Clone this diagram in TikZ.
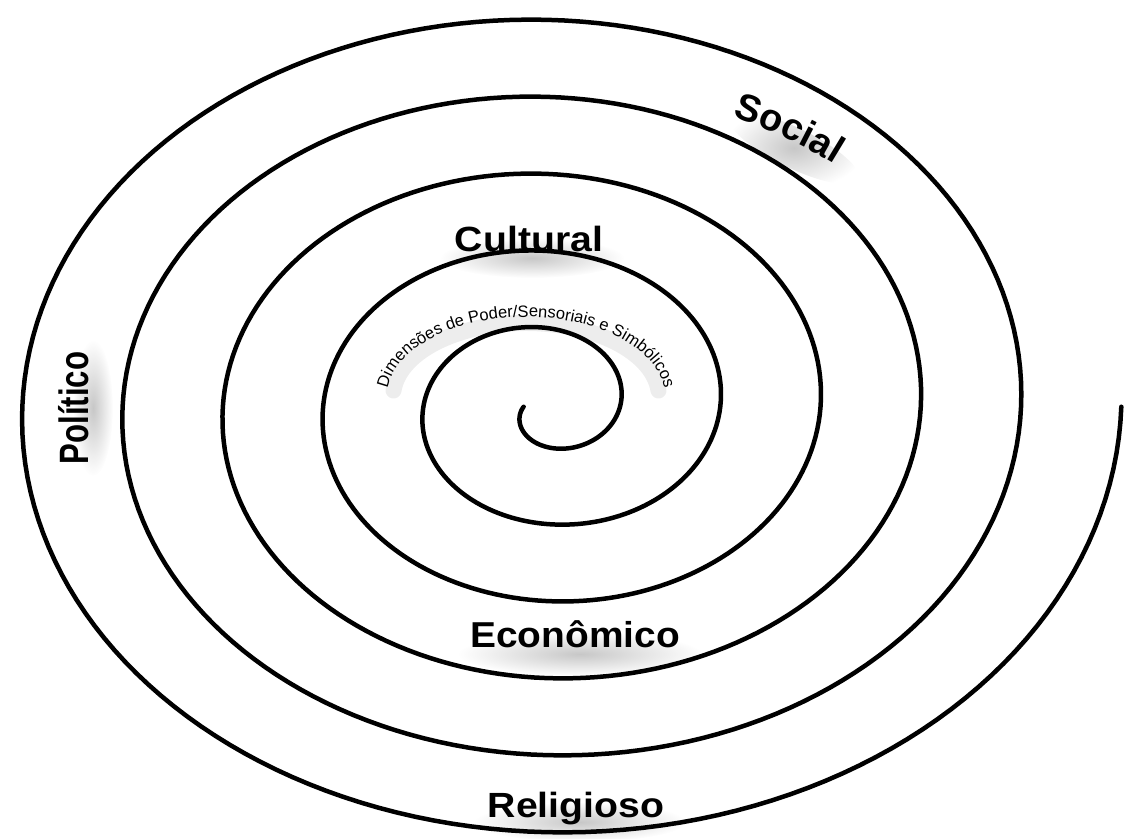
\documentclass[tikz,border=0pt]{standalone}
\usepackage{fontspec}
\setmainfont{Liberation Sans}
\usetikzlibrary{decorations.text,fadings}
\tikzfading[name=softglow, inner color=transparent!0, outer color=transparent!100]
\tikzset{
  spiral/.style={line width=4.5pt, line cap=round, line join=round},
  lbl/.style={font=\fontsize{35}{40}\selectfont\bfseries, inner sep=0pt, anchor=base},
  glow/.style={fill=black, opacity=0.22, path fading=softglow},
}
\begin{document}
\begin{tikzpicture}[x=1pt,y=1pt]
\useasboundingbox (0,0) rectangle (1124,838);
\fill[white] (0,0) rectangle (1124,838);
\coordinate (c) at (546.75,431.25);
% soft glows under the labels
\fill[glow] (532,580) ellipse (92 and 20);
\fill[glow] (580,184) ellipse (122 and 22);
\fill[glow] (580,16) ellipse (106 and 20);
\fill[glow] (93,430) ellipse (20 and 68);
\fill[glow, rotate around={-26:(794,690)}] (794,690) ellipse (72 and 20);
\draw[black, opacity=0.07, line width=16pt, line cap=round]
  ([shift={(175:133 and 74)}]526,441) arc[start angle=175, end angle=5, x radius=133, y radius=74];
% spiral
\draw[spiral] plot[domain=-180:1800, samples=991, variable=\t]
  ({546.75+(73.25+0.2785*\t)*cos(\t)}, {431.25+(59.5+0.214*\t)*sin(\t)});
% labels
\node[lbl] (cultural) at (529,586) {\scalebox{1.12}[1]{Cultural}};
\node[lbl, font=\fontsize{36}{40}\selectfont\bfseries] (economico) at (575,190) {\scalebox{1.08}[1]{Econômico}};
\node[lbl] (religioso) at (576,21) {\scalebox{1.12}[1]{Religioso}};
\node[lbl, font=\fontsize{41}{44}\selectfont\bfseries, rotate=90] (politico) at (88,430) {\scalebox{0.76}[1]{Político}};
\path[decorate, decoration={text along path, text align=center,
  text={|\fontsize{38}{40}\selectfont\bfseries|Social}}]
  ([shift={(76:441 and 320)}]c) arc[start angle=76, end angle=37, x radius=441, y radius=320];
\path[decorate, decoration={text along path, text align=center,
  text={|\fontsize{16.5}{18}\selectfont|Dimensões de Poder/Sensoriais e Simbólicos}}]
  ([shift={(183:139 and 80)}]526,441) arc[start angle=183, end angle=-3, x radius=139, y radius=80];
\end{tikzpicture}
\end{document}
